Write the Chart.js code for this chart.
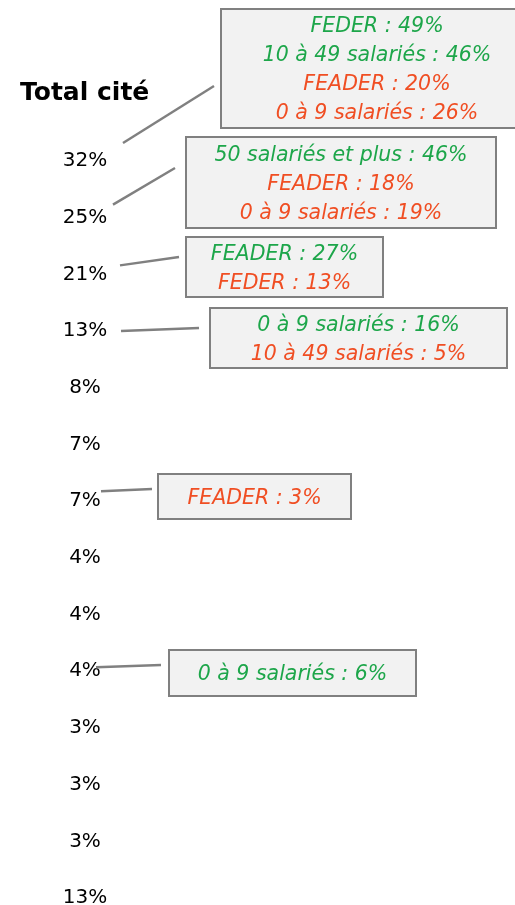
<!DOCTYPE html>
<html>
<head>
<meta charset="utf-8">
<script src="https://cdn.jsdelivr.net/npm/chart.js@4.4.1/dist/chart.umd.min.js"></script>
<style>
  html, body { margin: 0; padding: 0; background: #fff; }
  #wrap { width: 515px; height: 905px; position: relative; }
</style>
</head>
<body>
<div id="wrap"><canvas id="chart"></canvas></div>
<script>
// values of the "Total cité" column, top to bottom
const title = 'Total cité';
const totals = [32, 25, 21, 13, 8, 7, 7, 4, 4, 4, 3, 3, 3, 13];

// callouts: which row they point at, and their text lines
const calloutRows = [0, 1, 2, 3, 6, 9];
const calloutTexts = [
    ['FEDER : 49%', '10 à 49 salariés : 46%', 'FEADER : 20%', '0 à 9 salariés : 26%'],
    ['50 salariés et plus : 46%', 'FEADER : 18%', '0 à 9 salariés : 19%'],
    ['FEADER : 27%', 'FEDER : 13%'],
    ['0 à 9 salariés : 16%', '10 à 49 salariés : 5%'],
    ['FEADER : 3%'],
    ['0 à 9 salariés : 6%']
];
// 'up' = over-represented (green), 'down' = under-represented (orange)
const calloutKinds = [
    ['up', 'up', 'down', 'down'],
    ['up', 'down', 'down'],
    ['up', 'down'],
    ['up', 'down'],
    ['down'],
    ['up']
];

const GREEN = '#1DA64A';
const ORANGE = '#F04E23';

// box layout (pixels): left, top, width, height, line start offset from point, line end
// first box runs past the right edge, as in the original
const boxLayout = [
    { x: 221, y: 9,   w: 312, h: 119, sx: 38, sy: -16, ex: 214, ey: 86 },
    { x: 186, y: 137, w: 310, h: 91,  sx: 28, sy: -11, ex: 175, ey: 168 },
    { x: 186, y: 237, w: 197, h: 60,  sx: 35, sy: -7,  ex: 179, ey: 257 },
    { x: 210, y: 308, w: 297, h: 60,  sx: 36, sy: 2,   ex: 199, ey: 328 },
    { x: 158, y: 474, w: 193, h: 45,  sx: 16, sy: -8,  ex: 152, ey: 489 },
    { x: 169, y: 650, w: 247, h: 46,  sx: 11, sy: -2,  ex: 161, ey: 665 }
];

const FONT = '"DejaVu Sans", sans-serif';

const points = totals.map((v, i) => ({ x: 0, y: i, v: v }));

const labelPlugin = {
    id: 'labels',
    afterDatasetsDraw(chart) {
        const ctx = chart.ctx;
        const meta = chart.getDatasetMeta(0);
        ctx.save();

        // title
        ctx.fillStyle = '#000';
        ctx.font = 'bold 25px ' + FONT;
        ctx.textAlign = 'left';
        ctx.textBaseline = 'middle';
        ctx.fillText(title, 20, 93);

        // values
        ctx.font = '20px ' + FONT;
        ctx.textAlign = 'center';
        meta.data.forEach((el, i) => {
            ctx.fillText(totals[i] + '%', el.x, el.y + 2);
        });

        // callouts
        calloutRows.forEach((row, k) => {
            const el = meta.data[row];
            const b = boxLayout[k];
            ctx.strokeStyle = '#808080';
            ctx.lineWidth = 2.5;
            ctx.beginPath();
            ctx.moveTo(el.x + b.sx, el.y + b.sy);
            ctx.lineTo(b.ex, b.ey);
            ctx.stroke();

            ctx.fillStyle = '#F2F2F2';
            ctx.fillRect(b.x, b.y, b.w, b.h);
            ctx.lineWidth = 2;
            ctx.strokeRect(b.x, b.y, b.w, b.h);

            const lines = calloutTexts[k];
            const lh = 29;
            const cx = b.x + b.w / 2;
            const cy = b.y + b.h / 2 + 2;
            ctx.font = 'italic 20.5px ' + FONT;
            ctx.textAlign = 'center';
            lines.forEach((t, j) => {
                ctx.fillStyle = calloutKinds[k][j] === 'up' ? GREEN : ORANGE;
                ctx.fillText(t, cx, cy + (j - (lines.length - 1) / 2) * lh);
            });
        });
        ctx.restore();
    }
};

new Chart(document.getElementById('chart'), {
    type: 'scatter',
    data: {
        datasets: [{
            data: points,
            pointRadius: 0,
            pointHoverRadius: 0
        }]
    },
    options: {
        responsive: true,
        maintainAspectRatio: false,
        animation: false,
        layout: { padding: { left: 85, right: 0, top: 159, bottom: 9 } },
        scales: {
            x: { display: false, min: 0, max: 1 },
            y: { display: false, min: 0, max: totals.length - 1, reverse: true }
        },
        plugins: {
            legend: { display: false },
            tooltip: { enabled: false }
        }
    },
    plugins: [labelPlugin]
});
</script>
</body>
</html>
